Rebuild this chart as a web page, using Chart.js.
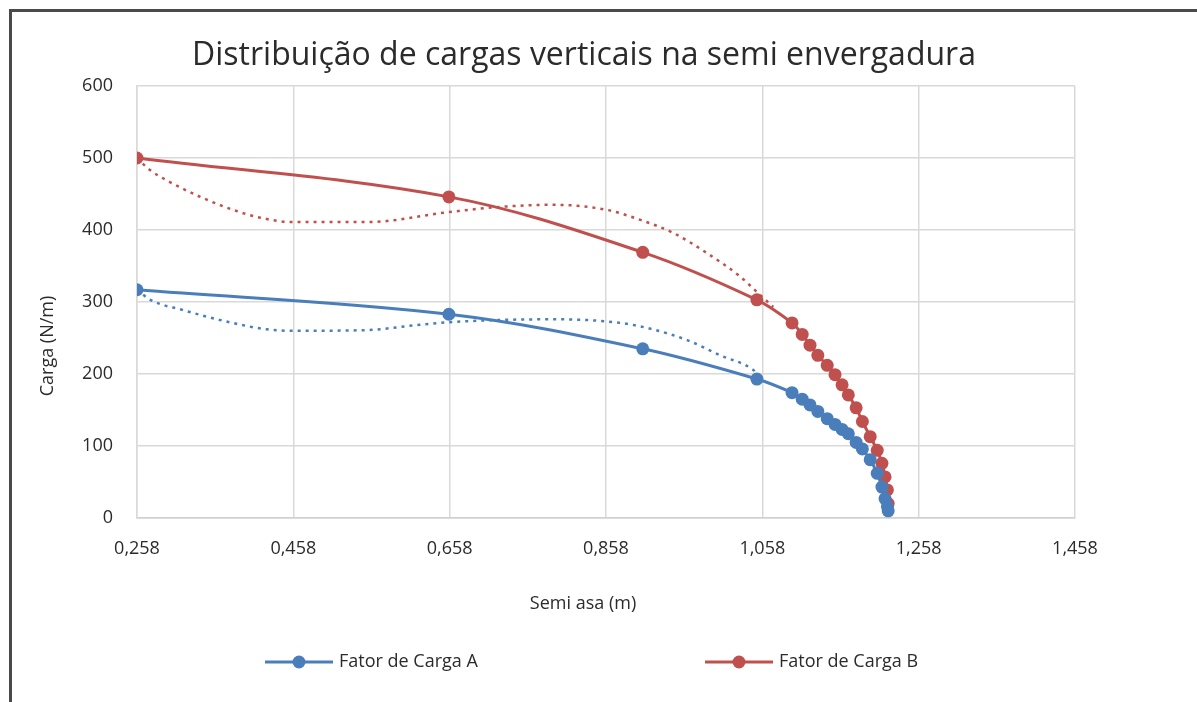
<!DOCTYPE html>
<html>
<head>
<meta charset="utf-8">
<title>Distribuição de cargas verticais na semi envergadura</title>
<script src="https://cdn.jsdelivr.net/npm/chart.js"></script>
<style>
  html, body { margin: 0; padding: 0; background: #fff; overflow: hidden; }
  .frame { position: absolute; left: 9px; top: 9px; width: 1400px; height: 900px;
           border-top: 3px solid #4a4a4a; border-left: 3px solid #4a4a4a; }
  #chart { position: absolute; left: 0; top: 0; }
</style>
</head>
<body>
<div class="frame"></div>
<canvas id="chart" width="1197" height="702"></canvas>
<script>
// Tick labels
const xTicks = [0.258, 0.458, 0.658, 0.858, 1.058, 1.258, 1.458];
const yTicks = [0, 100, 200, 300, 400, 500, 600];

// Semi asa (m) stations, shared by both series
const semiAsa = [0.258, 0.657, 0.905, 1.051, 1.096, 1.109, 1.119, 1.129, 1.141, 1.151,
                 1.160, 1.168, 1.178, 1.186, 1.196, 1.205, 1.211, 1.215, 1.218, 1.219];
// Carga (N/m)
const cargaA = [317, 283, 235, 193, 174, 165, 157, 148, 138, 130,
                123, 117, 105, 96, 81, 62, 43, 27, 16, 10];
const cargaB = [500, 446, 369, 303, 271, 255, 240, 226, 212, 199,
                185, 171, 153, 134, 113, 94, 76, 57, 39, 20];

// Dotted trend curves
const tendXA = [0.258, 0.275, 0.316, 0.380, 0.424, 0.458, 0.552, 0.616, 0.658, 0.722,
                0.790, 0.876, 0.918, 0.962, 1.004, 1.046, 1.055];
const tendA  = [317, 303, 289, 271, 262, 260, 261, 268, 272, 275,
                276, 271, 262, 247, 226, 206, 196];
const tendXB = [0.258, 0.275, 0.296, 0.339, 0.381, 0.416, 0.458, 0.552, 0.658, 0.722,
                0.790, 0.859, 0.902, 0.944, 0.987, 1.030, 1.051, 1.072];
const tendB  = [500, 483, 469, 446, 428, 417, 411, 411, 425, 432,
                435, 428, 414, 396, 368, 335, 314, 293];

const seriesNames = ['Fator de Carga A', 'Fator de Carga B'];
const titleText = 'Distribuição de cargas verticais na semi envergadura';
const xTitle = 'Semi asa (m)';
const yTitle = 'Carga (N/m)';

const BLUE = '#4a7ebb';
const RED = '#c0504d';
const TEXT = '#2b2b2b';
const FONT = '"Open Sans", "Liberation Sans", sans-serif';

const pts = (xs, ys) => xs.map((x, i) => ({ x: x, y: ys[i] }));

// titles and legend drawn where Excel places them
const decor = {
  id: 'decor',
  afterDraw(chart) {
    const ctx = chart.ctx;
    ctx.save();
    ctx.fillStyle = TEXT;
    ctx.textAlign = 'center';
    ctx.textBaseline = 'middle';
    ctx.font = '32px ' + FONT;
    ctx.fillText(titleText, 584, 56);

    ctx.font = '18px ' + FONT;
    ctx.fillText(xTitle, 583, 604);

    ctx.save();
    ctx.translate(48, 346);
    ctx.rotate(-Math.PI / 2);
    ctx.fillText(yTitle, 0, 0);
    ctx.restore();

    // legend
    const items = [
      { x: 265, color: BLUE, name: seriesNames[0] },
      { x: 705, color: RED, name: seriesNames[1] }
    ];
    const ly = 662;
    items.forEach(it => {
      ctx.strokeStyle = it.color;
      ctx.lineWidth = 3;
      ctx.beginPath();
      ctx.moveTo(it.x, ly);
      ctx.lineTo(it.x + 68, ly);
      ctx.stroke();
      ctx.fillStyle = it.color;
      ctx.beginPath();
      ctx.arc(it.x + 34, ly, 6.5, 0, Math.PI * 2);
      ctx.fill();
      ctx.fillStyle = TEXT;
      ctx.textAlign = 'left';
      ctx.fillText(it.name, it.x + 74, ly);
    });
    ctx.restore();
  }
};

new Chart(document.getElementById('chart'), {
  type: 'line',
  data: {
    datasets: [
      { label: 'tendA', data: pts(tendXA, tendA), borderColor: BLUE, borderWidth: 2.5,
        borderDash: [3, 5], pointRadius: 0, cubicInterpolationMode: 'monotone' },
      { label: 'tendB', data: pts(tendXB, tendB), borderColor: RED, borderWidth: 2.5,
        borderDash: [3, 5], pointRadius: 0, cubicInterpolationMode: 'monotone' },
      { label: seriesNames[0], data: pts(semiAsa, cargaA), borderColor: BLUE, backgroundColor: BLUE,
        borderWidth: 3, pointRadius: 6.5, pointBorderWidth: 0, tension: 0.35 },
      { label: seriesNames[1], data: pts(semiAsa, cargaB), borderColor: RED, backgroundColor: RED,
        borderWidth: 3, pointRadius: 6.5, pointBorderWidth: 0, tension: 0.35 }
    ]
  },
  options: {
    responsive: false,
    animation: false,
    layout: { padding: { left: 0, right: 122, top: 86, bottom: 0 } },
    plugins: { legend: { display: false }, tooltip: { enabled: false } },
    scales: {
      x: {
        type: 'linear', min: xTicks[0], max: xTicks[xTicks.length - 1],
        afterFit(s) { s.height = 184; },
        afterBuildTicks(s) { s.ticks = xTicks.map(v => ({ value: v })); },
        ticks: { callback: v => v.toFixed(3).replace('.', ','), padding: 20, maxRotation: 0,
                 autoSkip: false, color: TEXT, font: { family: FONT, size: 18 } },
        grid: { color: '#d9d9d9', lineWidth: 1.5, drawTicks: false },
        border: { color: '#d0d0d0', width: 1.5 }
      },
      y: {
        min: yTicks[0], max: yTicks[yTicks.length - 1],
        afterFit(s) { s.width = 137; },
        afterBuildTicks(s) { s.ticks = yTicks.map(v => ({ value: v })); },
        ticks: { padding: 24, color: TEXT, font: { family: FONT, size: 18 } },
        grid: { color: '#d9d9d9', lineWidth: 1.5, drawTicks: false },
        border: { color: '#d9d9d9', width: 1.5 }
      }
    }
  },
  plugins: [decor]
});
</script>
</body>
</html>
